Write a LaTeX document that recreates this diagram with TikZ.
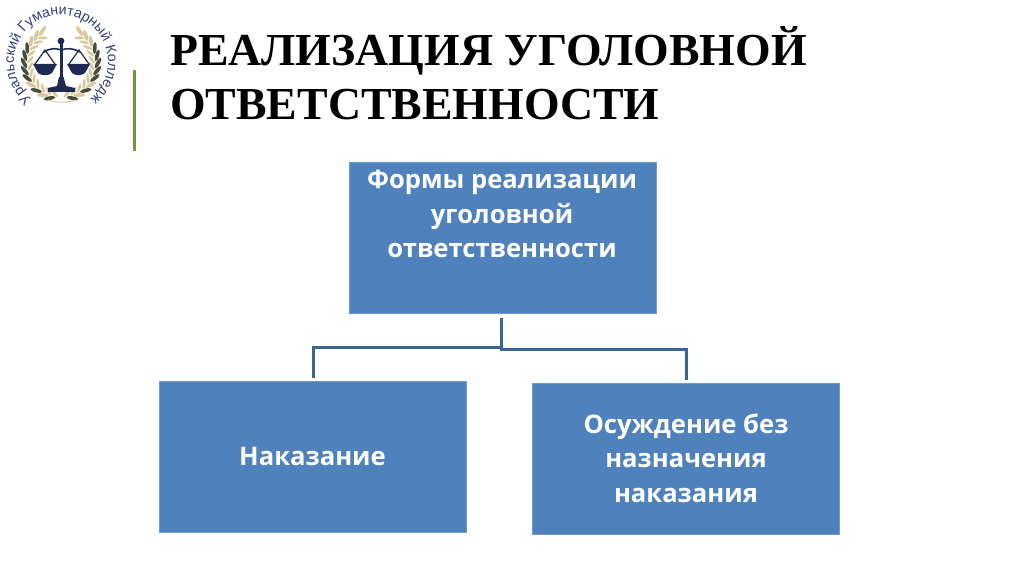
\documentclass[tikz,border=0pt]{standalone}
\usepackage{fontspec}
\setmainfont{Liberation Serif}
\newfontfamily\boxfont{Open Sans}
\newfontfamily\logofont{Liberation Sans}
\usetikzlibrary{decorations.text}
\definecolor{boxblue}{HTML}{4F81BD}
\definecolor{boxedge}{HTML}{6F9AD0}
\definecolor{linkblue}{HTML}{3A6496}
\definecolor{navy}{HTML}{1F2A52}
\definecolor{logotext}{HTML}{333F78}
\definecolor{leafdark}{HTML}{4A4A3C}
\definecolor{leaftan}{HTML}{D9C99A}
\definecolor{barolive}{HTML}{76923C}
\tikzset{
  bluebox/.style={draw=boxedge,line width=0.8pt,fill=boxblue,minimum width=307pt,minimum height=151pt,inner sep=0pt},
  boxlabel/.style={text=white,font=\boxfont\bfseries\fontsize{25.6}{34.5}\selectfont,align=center,inner sep=0pt},
  link/.style={draw=linkblue,line width=3pt,line cap=butt,line join=miter},
  titletext/.style={font=\bfseries\fontsize{45.8}{54}\selectfont,anchor=west,align=left,text=black,inner sep=0pt}
}
\begin{document}
\begin{tikzpicture}[x=1pt,y=1pt]
\useasboundingbox (0,0) rectangle (1024,574);
\fill[white] (0,0) rectangle (1024,574);
% olive bar
\fill[barolive] (132.5,423) rectangle (136,504);
% title
\node[titletext] (title) at (170,500.5) {РЕАЛИЗАЦИЯ УГОЛОВНОЙ\\ОТВЕТСТВЕННОСТИ};
% boxes
\node[bluebox] (top) at (502.5,336) {};
\node[boxlabel] (toptext) at (502,360) {Формы реализации\\уголовной\\ответственности};
\node[bluebox] (left) at (312.5,117.5) {};
\node[boxlabel] (lefttext) at (312.5,117.5) {Наказание};
\node[bluebox] (right) at (686,115.5) {};
\node[boxlabel] (righttext) at (686,116) {Осуждение без\\назначения\\наказания};
% connector
\coordinate (topdrop) at (501.5,256);
\coordinate (jl) at (501.5,227);
\coordinate (jr) at (501.5,225);
\coordinate (lend) at (313,196);
\coordinate (rend) at (686,194);
\draw[link] (topdrop) -- (jl) -| (lend);
\draw[link] (jl) -- (jr) -| (rend);
% logo text
\path[decorate,decoration={text along path,text align=center,
   text={|\logofont\fontsize{14.2}{15}\selectfont\color{logotext}|Уральский Гуманитарный Колледж}}]
   (61,512) ++(229:47) arc (229:-49:47);
% laurel
\foreach \a/\c in {120/leaftan,132/leaftan,144/leaftan,156/leafdark,168/leafdark,180/leafdark,192/leafdark,204/leafdark,216/leaftan,228/leafdark,240/leaftan,252/leafdark}{
  \path (61,511) ++(\a:37) coordinate (p);
  \fill[\c,shift={(p)},rotate=\a-62] (0,0) ellipse[x radius=6,y radius=1.9];
  \path (61,511) ++(\a+6:31) coordinate (q);
  \fill[leaftan,shift={(q)},rotate=\a-120] (0,0) ellipse[x radius=5,y radius=1.5];
}
\foreach \a/\c in {60/leaftan,48/leaftan,36/leaftan,24/leafdark,12/leafdark,0/leafdark,-12/leafdark,-24/leafdark,-36/leaftan,-48/leafdark,-60/leaftan,-72/leafdark}{
  \path (61,511) ++(\a:37) coordinate (p);
  \fill[\c,shift={(p)},rotate=\a+62] (0,0) ellipse[x radius=6,y radius=1.9];
  \path (61,511) ++(\a-6:31) coordinate (q);
  \fill[leaftan,shift={(q)},rotate=\a+120] (0,0) ellipse[x radius=5,y radius=1.5];
}
% bottom sprig
\draw[leaftan,line width=1pt] (48,474) .. controls (55,471) and (68,471) .. (76,474);
% scales
\fill[navy] (59.8,532) rectangle (62.8,490);
\fill[navy] (61,533) circle[radius=3.4];
\fill[navy] (48,482) -- (75,482) -- (75,486) -- (66,488) -- (63.5,497) -- (59,497) -- (57,488) -- (48,486) -- cycle;
\draw[navy,line width=1.6pt] (44,522) .. controls (50,526) and (56,526) .. (61,524) .. controls (67,526) and (73,526) .. (80,522);
\fill[navy] (33,510) -- (57,510) -- (52,501) .. controls (48,498) and (42,498) .. (38,501) -- cycle;
\fill[navy] (67,510) -- (90,510) -- (85,501) .. controls (81,498) and (76,498) .. (72,501) -- cycle;
\draw[navy,line width=1.2pt] (35,510) -- (45,524) -- (55,510) (69,510) -- (79,524) -- (89,510);
\end{tikzpicture}
\end{document}
